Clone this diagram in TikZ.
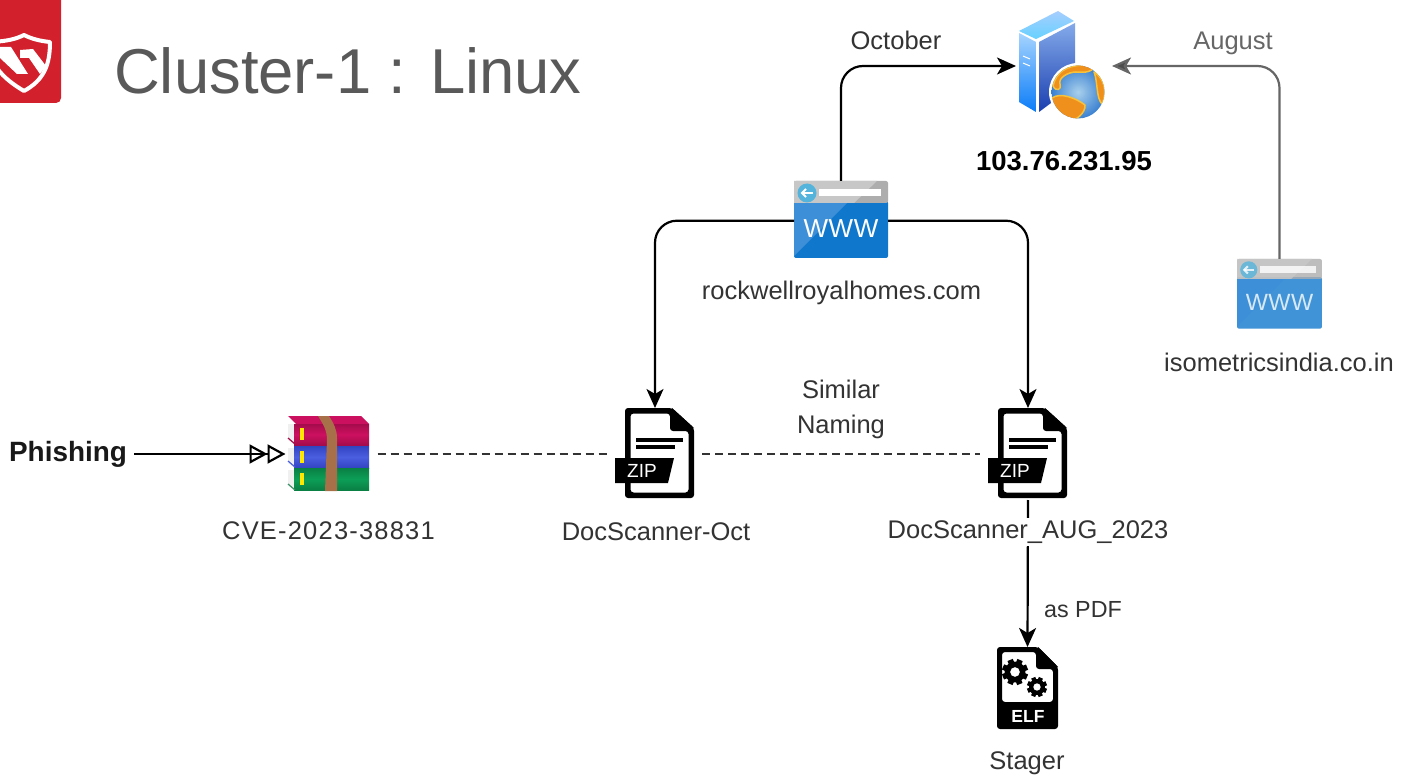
\documentclass[tikz,border=0pt]{standalone}
\usepackage{fontspec}
\setmainfont{Liberation Sans}
\usetikzlibrary{arrows.meta,calc}
\definecolor{txt}{HTML}{333333}
\definecolor{gtxt}{HTML}{666666}
\definecolor{logored}{HTML}{D2202C}
\definecolor{wblue}{HTML}{0F78CC}
\definecolor{wblueb}{HTML}{3D8FD8}
\definecolor{wcirc}{HTML}{55B4DC}
\definecolor{orng}{HTML}{F0901C}
\definecolor{ylw}{HTML}{F7C23A}
\tikzset{
  iconbox/.style={inner sep=0pt,outer sep=0pt,draw=none},
  lbl/.style={font=\fontsize{25.5}{28}\selectfont,text=txt,inner sep=0pt},
  conn/.style={line width=2.2pt,draw=black,rounded corners=22pt,-{Stealth[length=19pt,width=17pt,inset=5pt]}},
  dashln/.style={line width=2pt,draw=txt,dash pattern=on 8pt off 5pt},
  land/.style={fill=orng,draw=ylw,line width=1.5pt,line join=round},
}
\newcommand\wwwart[5]{% x y scale opacity fontsize
  \begin{scope}[shift={(#1,#2)},scale=#3,opacity=#4]
    \fill[wblue,rounded corners=2pt] (0,20) -- (0,77) -- (94,77) -- (94,20) -- cycle;
    \fill[wblueb] (0,20) -- (0,75) -- (55,20) -- cycle;
    \fill[black!32,rounded corners=2pt] (0,22) -- (0,0) -- (94,0) -- (94,22) -- cycle;
    \fill[black!22] (0,22) -- (0,0) -- (83,0) -- (60,22) -- cycle;
    \fill[white] (25,8) rectangle (87,15);
    \fill[wcirc] (13,12) circle (9.5);
    \draw[white,line width=2pt] (19,12) -- (8,12);
    \draw[white,line width=2pt] (12,8) -- (8,12) -- (12,16);
    \node[white,inner sep=0pt,font=\fontsize{#5}{32}\selectfont] (wtx#1) at (47,48) {\addfontfeatures{LetterSpace=2}WWW};
  \end{scope}}
\newcommand\ziptag[2]{% x y of top-left of body
  \begin{scope}[shift={(#1,#2)}]
    \fill[black,rounded corners=3pt,even odd rule]
      (0,0) -- (47,0) -- (69,20) -- (69,90) -- (0,90) -- cycle
      (5.5,5.5) -- (45,5.5) -- (45,23) -- (63.5,23) -- (63.5,84.5) -- (5.5,84.5) -- cycle;
    \fill[black] (47,0) -- (69,20) -- (47,20) -- cycle;
    \fill[black] (11,30) rectangle (58,34);
    \fill[black] (11,37) rectangle (50,41);
    \fill[white] (0,50) rectangle (10,75);
    \fill[black] (-10,50) -- (49,50) -- (43,75) -- (-10,75) -- cycle;
    \node[white,inner sep=0pt,font=\fontsize{19}{20}\selectfont] (ztx#1) at (17,63) {ZIP};
  \end{scope}}
\newcommand\gear[3]{% x y r
  \begin{scope}[shift={(#1,#2)}]
    \foreach \a in {0,45,...,315}{\fill[black,rotate=\a+22] (-#3*0.22,#3*0.7) rectangle (#3*0.22,#3);}
    \fill[black,even odd rule] (0,0) circle (#3*0.8) (0,0) circle (#3*0.38);
  \end{scope}}
\begin{document}
\begin{tikzpicture}[x=1pt,y=-1pt]
\useasboundingbox (0,0) rectangle (1409,778);
\fill[white] (0,0) rectangle (1409,778);

% logo
\begin{scope}
  \clip (0,0) rectangle (61,103);
  \fill[logored,rounded corners=5pt] (-10,-10) rectangle (61,103);
  \draw[white,line width=4pt,line join=round] (-8,42) .. controls (8,41) and (16,39) .. (24,35) .. controls (32,39) and (40,41) .. (50,42) .. controls (50,65) and (44,80) .. (24,91) .. controls (14,85) and (4,78) .. (-3,68);
  \fill[white] (0,47) -- (11,47) -- (28,74) -- (17,74) -- (0,58) -- cycle;
  \fill[white] (20,58) -- (20,50) -- (33,49) -- (46,66) -- (40,74) -- (29,58) -- cycle;
\end{scope}
\node[inner sep=0pt,anchor=base west,text=black!65,font=\fontsize{63.4}{70}\selectfont] (title) at (114,94) {Cluster-1 : Linux};

% icon holders
\node[iconbox,minimum width=96pt,minimum height=112pt] (srv) at (1064,66) {};
\node[iconbox,minimum width=94pt,minimum height=79.4pt] (www1) at (841,220.7) {};
\node[iconbox,minimum width=85pt,minimum height=70pt] (www2) at (1279.5,294) {};
\node[iconbox,minimum width=82pt,minimum height=76pt] (rar) at (328.5,454) {};
\node[iconbox,minimum width=78pt,minimum height=92pt] (zip1) at (655,454) {};
\node[iconbox,minimum width=78pt,minimum height=92pt] (zip2) at (1028,454) {};
\node[iconbox,minimum width=61pt,minimum height=83pt] (elf) at (1027.5,688.5) {};

% server art
\fill[white] (1017,30) -- (1058,9) -- (1077,21) -- (1077,72) -- (1037,115) -- (1017,104) -- cycle;
\shade[top color=cyan!45!blue!35,bottom color=cyan!70!blue!60] (1019,31) -- (1058,11) -- (1074,21) -- (1036,39) -- cycle;
\definecolor{sa}{HTML}{A6D4FF}\definecolor{sb}{HTML}{0A7CF8}\definecolor{sc}{HTML}{84AAEA}\definecolor{sd}{HTML}{1A3FB0}
\shade[top color=sa,bottom color=sb] (1019,33) -- (1036,42) -- (1036,112) -- (1019,102) -- cycle;
\shade[top color=sc,bottom color=sd] (1039,42) -- (1075,23) -- (1075,85) -- (1039,112) -- cycle;
\draw[white,line width=1pt] (1023,56) -- (1030,59) (1023,63) -- (1030,66);
\fill[white] (1078,92) circle (29);
\definecolor{ga}{HTML}{A8D0EC}\definecolor{gb}{HTML}{3A80D0}
\shade[inner color=ga,outer color=gb] (1078,92) circle (26.5);
\begin{scope}
  \clip (1078,92) circle (26.5);
  \path[land] (1053,86) .. controls (1056,72) and (1068,62) .. (1096,66) .. controls (1090,74) and (1082,72) .. (1076,72) .. controls (1068,72) and (1058,78) .. (1060,84) .. controls (1062,90) and (1056,92) .. (1053,86) -- cycle;
  \path[land] (1052,98) .. controls (1060,92) and (1076,98) .. (1085,105) .. controls (1086,112) and (1076,122) .. (1068,120) .. controls (1058,116) and (1052,106) .. (1052,98) -- cycle;
  \path[land] (1094,72) .. controls (1104,78) and (1108,92) .. (1102,104) .. controls (1096,98) and (1098,82) .. (1094,72) -- cycle;
\end{scope}

% www art
\wwwart{794}{181}{1}{1}{26}
\wwwart{1237}{259}{0.904}{0.8}{23.5}

% rar art
\definecolor{rr}{HTML}{CC1060}\definecolor{rrd}{HTML}{A50C4C}
\definecolor{rb}{HTML}{4A5EE0}\definecolor{rbd}{HTML}{3344C0}
\definecolor{rg}{HTML}{0C9E56}\definecolor{rgd}{HTML}{0A8044}
\definecolor{rbelt}{HTML}{A87048}
\fill[black!6] (288,424) -- (295,424) -- (295,445) -- (288,440) -- cycle;
\fill[black!6] (288,448) -- (295,448) -- (295,468) -- (288,463) -- cycle;
\fill[black!6] (288,470) -- (295,470) -- (295,490) -- (288,485) -- cycle;
\fill[rr] (288,416) -- (361,416) -- (369,424) -- (296,424) -- cycle;
\shade[top color=rrd,bottom color=rrd,middle color=rr] (294,424) rectangle (369,445);
\shade[top color=rbd,bottom color=rbd,middle color=rb] (294,446) rectangle (369,468);
\shade[top color=rgd,bottom color=rgd,middle color=rg] (294,468) rectangle (369,490);
\fill[yellow!90!orange] (300,428) rectangle (304,440);
\fill[yellow!90!orange] (300,451) rectangle (304,463);
\fill[yellow!90!orange] (300,473) rectangle (304,485);
\draw[rrd,line width=1.2pt] (288,438) -- (295,444);
\draw[rb,line width=1.2pt] (288,461) -- (295,467);
\draw[rg!60!gray,line width=1.2pt] (288,484) -- (295,490);
\fill[rbelt] (318,416) -- (329,416) .. controls (334,424) and (337,430) .. (337,438) -- (337,491) -- (325,491) -- (327,440) .. controls (327,430) and (323,424) .. (318,416) -- cycle;

% zip art
\ziptag{625}{408}
\ziptag{998}{408}

% elf art
\begin{scope}[shift={(997,647)}]
  \fill[black,rounded corners=3pt,even odd rule]
    (0,0) -- (41,0) -- (61,20) -- (61,82) -- (0,82) -- cycle
    (5,5) -- (39,5) -- (39,22) -- (56,22) -- (56,55) -- (5,55) -- cycle;
  \fill[black] (41,0) -- (61,20) -- (41,20) -- cycle;
  \node[white,inner sep=0pt,font=\bfseries\fontsize{17.5}{20}\selectfont] (elftx) at (31,69) {ELF};
\end{scope}
\gear{1015}{672}{13}
\gear{1037}{687}{10}

% connectors
\draw[conn] (www1.north) |- (srv.west);
\draw[conn,draw=gtxt,-{Stealth[length=19pt,width=17pt,inset=5pt,fill=black!70]}] (www2.north) |- (srv.east);
\draw[conn] (www1.west) -| (zip1.north);
\draw[conn] (www1.east) -| (zip2.north);
\draw[dashln,shorten <=8pt,shorten >=8pt] (rar.east) -- (zip1.west);
\draw[dashln,shorten <=8pt,shorten >=9pt] (zip1.east) -- (zip2.west);
\draw[conn] (zip2.south) -- (elf.north);

% labels
\node[lbl,text=black!90,font=\bfseries\fontsize{27.9}{28}\selectfont] (phish) at (68,454) {Phishing};
\draw[line width=1.8pt,draw=black,shorten <=7pt,-{Triangle[open,length=18pt,width=19pt,line width=2.2pt]Triangle[open,length=18pt,width=19pt,line width=2.2pt]}] (phish.east |- rar.west) -- ($(rar.west)+(-2,0)$);
\node[lbl] (oct) at (896,40) {October};
\node[lbl,text=gtxt] (aug) at (1233,43) {August};
\node[lbl,text=black,font=\bfseries\fontsize{27.5}{28}\selectfont] (ip) at (1064,161) {103.76.231.95};
\node[lbl] (l1) at (841.5,293) {rockwellroyalhomes.com};
\node[lbl] (l2) at (1279,362) {isometricsindia.co.in};
\node[lbl,align=center,font=\fontsize{25.5}{35}\selectfont] (sim) at (841,409.5) {Similar\\Naming};
\node[lbl] (l3) at (328.5,531) {\addfontfeatures{LetterSpace=4.7}CVE-2023-38831};
\node[lbl] (l4) at (656,532) {DocScanner-Oct};
\node[lbl,fill=white,inner ysep=3pt] (l5) at (1028,532) {DocScanner\_AUG\_2023};
\node[lbl,font=\fontsize{23.3}{26}\selectfont] (l6) at (1083,610) {as PDF};
\node[lbl] (l7) at (1027,763) {Stager};
\end{tikzpicture}
\end{document}
